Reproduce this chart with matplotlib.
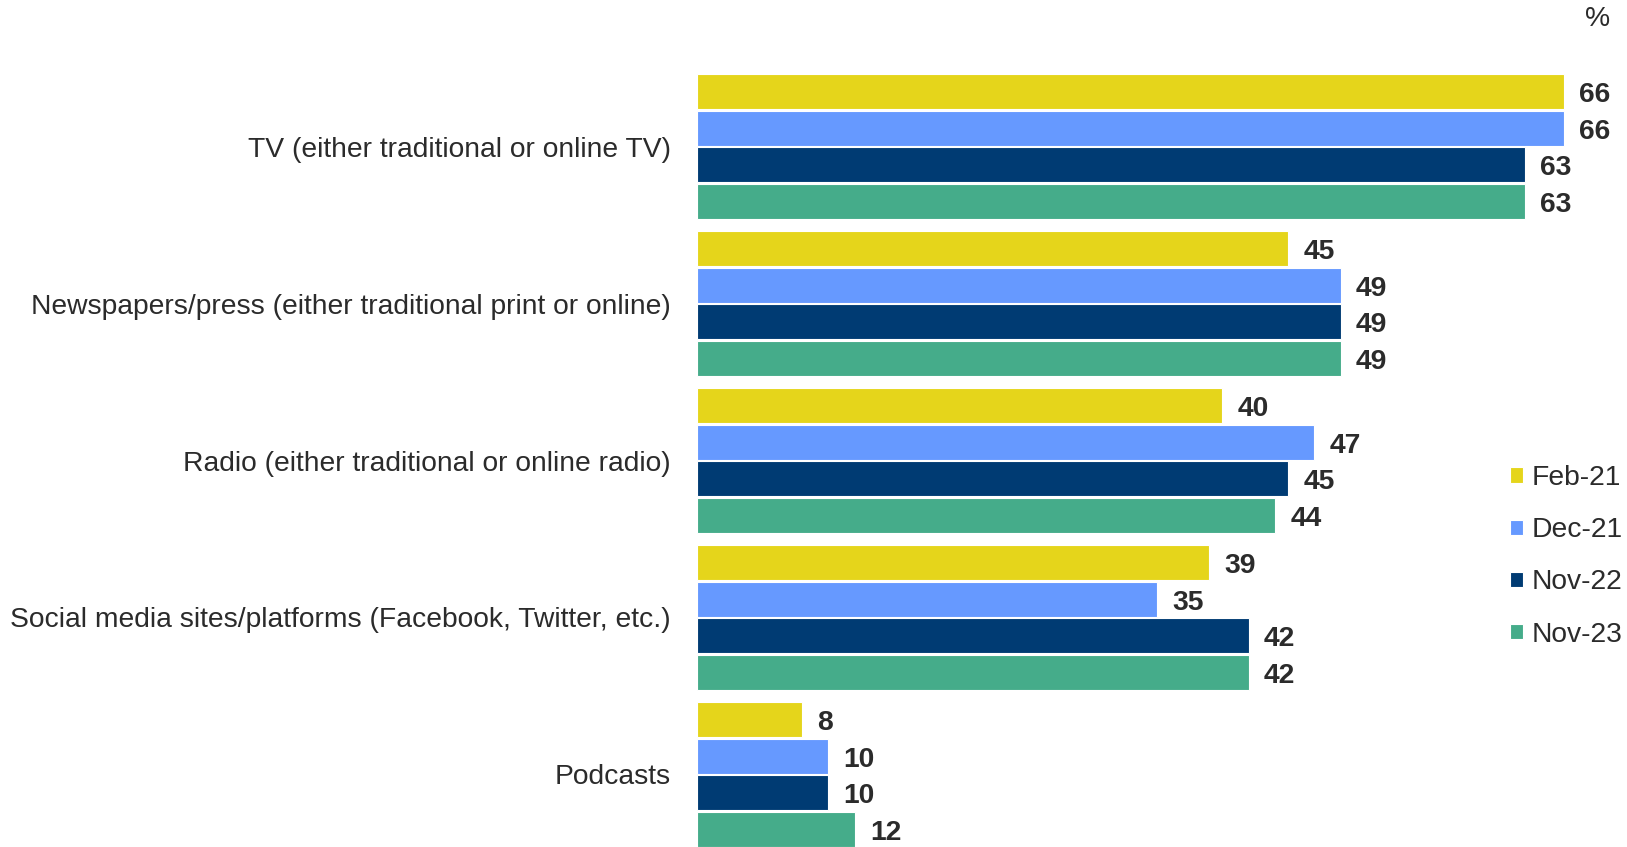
import matplotlib.pyplot as plt
import numpy as np

plt.rcParams['font.family'] = ['Liberation Sans', 'DejaVu Sans']

categories = [
    "TV (either traditional or online TV)",
    "Newspapers/press (either traditional print or online)",
    "Radio (either traditional or online radio)",
    "Social media sites/platforms (Facebook, Twitter, etc.)",
    "Podcasts",
]
series = ["Feb-21", "Dec-21", "Nov-22", "Nov-23"]
feb21 = [66, 45, 40, 39, 8]
dec21 = [66, 49, 47, 35, 10]
nov22 = [63, 49, 45, 42, 10]
nov23 = [63, 49, 44, 42, 12]
values = [feb21, dec21, nov22, nov23]
colors = ["#E5D51B", "#6699FF", "#003B73", "#45AC8A"]

text_col = "#2b2b2b"
fs = 20.3
slot = 0.2336
bh = 0.223

fig = plt.figure(figsize=(16.27, 8.47), dpi=100)
ax = fig.add_axes([697 / 1627, 0, 1 - 697 / 1627, 773 / 847])

idx = np.arange(len(categories))
for j, (name, vals, c) in enumerate(zip(series, values, colors)):
    ypos = idx + j * slot
    ax.barh(ypos, vals, height=bh, color=c, edgecolor="white", linewidth=0.8, label=name)
    for y, v in zip(ypos, vals):
        ax.annotate(str(v), (v, y), xytext=(11, -2.5), textcoords="offset points",
                    ha="left", va="center", fontsize=fs, fontweight="bold",
                    color=text_col, annotation_clip=False)

ax.set_xlim(0, 70.8)
ax.set_ylim(4 + 3 * slot + bh / 2, -bh / 2)
ax.set_yticks(idx + 1.5 * slot)
ax.set_yticklabels(categories, fontsize=fs, color=text_col)
ax.tick_params(axis="y", length=0, pad=19)
ax.set_xticks([])
for s in ax.spines.values():
    s.set_visible(False)

ax.legend(loc="upper left", bbox_to_anchor=(1510 / 1627, 1 - 465 / 847), bbox_transform=fig.transFigure,
          frameon=False, fontsize=fs, handlelength=0.45, handleheight=0.45,
          handletextpad=0.3, labelspacing=0.93, borderaxespad=0, borderpad=0,
          labelcolor=text_col)

fig.text(1598 / 1627, 1 - 19 / 847, "%", fontsize=fs, color=text_col, ha="center", va="center")

fig.savefig("out.png", dpi=100)
